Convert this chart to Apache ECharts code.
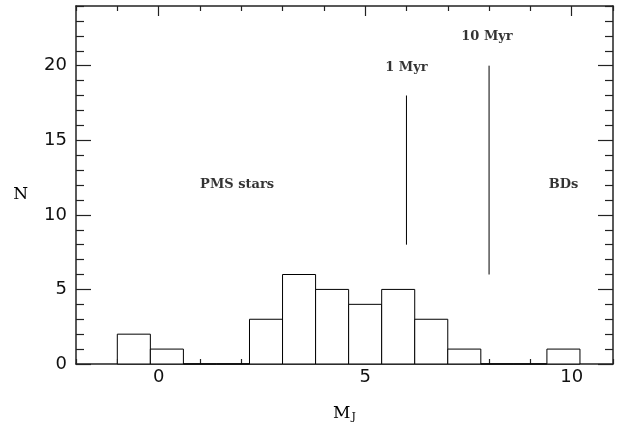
<!DOCTYPE html>
<html><head><meta charset="utf-8">
<script src="https://cdn.jsdelivr.net/npm/echarts@6/dist/echarts.min.js"></script>
<style>html,body{margin:0;padding:0;background:#fff}#c{width:624px;height:428px}</style>
</head><body><div id="c"></div>
<script>
// Histogram bins (left edges in M_J) and counts
const binStart = [-1.0, -0.2, 0.6, 1.4, 2.2, 3.0, 3.8, 4.6, 5.4, 6.2, 7.0, 7.8, 8.6, 9.4];
const counts   = [2, 1, 0, 0, 3, 6, 5, 4, 5, 3, 1, 0, 0, 1];
const binWidth = 0.8;
// Isochrone markers
const markerX    = [6, 8];
const markerLow  = [8, 6];
const markerHigh = [18, 20];
// Annotations
const noteText = ['1 Myr', '10 Myr', 'PMS stars', 'BDs'];
const noteX    = [6.0, 7.95, 1.9, 9.8];
const noteY    = [19.9, 21.95, 12, 12];
// Axis ticks
const xMajor = [0, 5, 10];
const xMinor = [-2, -1, 1, 2, 3, 4, 6, 7, 8, 9, 11];
const yMajor = [0, 5, 10, 15, 20];
const yMinor = [1, 2, 3, 4, 6, 7, 8, 9, 11, 12, 13, 14, 16, 17, 18, 19, 21, 22, 23, 24];
const X_MIN = -2, X_MAX = 11, Y_MIN = 0, Y_MAX = 24;

const axisCol = '#222';
const labelFont = {color: '#111', fontFamily: 'DejaVu Sans', fontSize: 18};
function xa(pos, vals, len, showLine, labels) {
  return {
    type: 'value', position: pos, min: X_MIN, max: X_MAX,
    axisLine: {show: showLine, onZero: false, lineStyle: {color: axisCol, width: 1.5}},
    axisTick: {show: true, inside: true, length: len, customValues: vals, lineStyle: {color: axisCol, width: 1.2}},
    axisLabel: labels ? Object.assign({show: true, customValues: xMajor, margin: 4}, labelFont) : {show: false},
    splitLine: {show: false}
  };
}
function ya(pos, vals, len, showLine, labels) {
  return {
    type: 'value', position: pos, min: Y_MIN, max: Y_MAX,
    axisLine: {show: showLine, onZero: false, lineStyle: {color: axisCol, width: 1.5}},
    axisTick: {show: true, inside: true, length: len, customValues: vals, lineStyle: {color: axisCol, width: 1.2}},
    axisLabel: labels ? Object.assign({show: true, customValues: yMajor, margin: 9}, labelFont) : {show: false},
    splitLine: {show: false}
  };
}
const xAxes = [xa('bottom', xMajor, 10, true, true), xa('bottom', xMinor, 5, false, false),
               xa('top', xMajor, 10, true, false), xa('top', xMinor, 5, false, false)];
xAxes[0].name = '{m|M}{j|J}';
xAxes[0].nameLocation = 'middle';
xAxes[0].nameGap = 40;
xAxes[0].nameTextStyle = {rich: {m: {fontFamily: 'DejaVu Serif', fontSize: 17, color: '#000'},
  j: {fontFamily: 'DejaVu Serif', fontSize: 11, color: '#000', verticalAlign: 'bottom', padding: [8, 0, 0, 1]}}};
const yAxes = [ya('left', yMajor, 15, true, true), ya('left', yMinor, 8, false, false),
               ya('right', yMajor, 15, true, false), ya('right', yMinor, 8, false, false)];
yAxes[0].name = 'N';
yAxes[0].nameLocation = 'middle';
yAxes[0].nameGap = 48;
yAxes[0].nameRotate = 0;
yAxes[0].nameTextStyle = {fontFamily: 'DejaVu Serif', fontSize: 17, color: '#000', verticalAlign: 'top', padding: [1, 0, 0, 0]};

const histData = binStart.map((s, i) => [s, s + binWidth, counts[i]]);

const series = [{
  type: 'custom', xAxisIndex: 0, yAxisIndex: 0,
  renderItem: function (params, api) {
    const p0 = api.coord([api.value(0), 0]);
    const p1 = api.coord([api.value(1), api.value(2)]);
    return {type: 'rect', shape: {x: p0[0], y: p1[1], width: p1[0] - p0[0], height: p0[1] - p1[1]},
      style: {fill: '#fff', stroke: '#000', lineWidth: 1}};
  },
  data: histData, z: 1
}];
markerX.forEach((x, i) => {
  series.push({type: 'line', xAxisIndex: 0, yAxisIndex: 0, symbol: 'none', silent: true,
    lineStyle: {color: '#000', width: 1}, data: [[x, markerLow[i]], [x, markerHigh[i]]], z: 3});
});
series.push({
  type: 'scatter', xAxisIndex: 0, yAxisIndex: 0, symbolSize: 0, silent: true,
  data: noteText.map((t, i) => ({value: [noteX[i], noteY[i]], name: t})),
  label: {show: true, position: 'inside', formatter: p => p.name, color: '#000',
    fontFamily: 'DejaVu Serif', fontWeight: 'bold', fontSize: 13}
});

const chart = echarts.init(document.getElementById('c'), null, {renderer: 'canvas'});
chart.setOption({
  animation: false,
  backgroundColor: '#fff',
  grid: {left: 76, right: 11, top: 6, bottom: 64, containLabel: false},
  xAxis: xAxes, yAxis: yAxes, series: series
});
</script></body></html>
